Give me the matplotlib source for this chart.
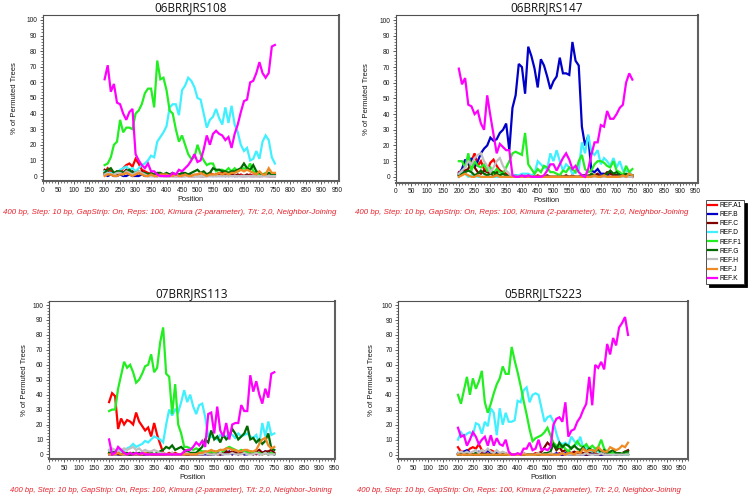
import matplotlib
matplotlib.use("Agg")
import matplotlib.pyplot as plt
from matplotlib.ticker import MultipleLocator

# ---------------- data ----------------
pos_a = list(range(200, 760, 10))   # panels 1-3 window midpoints
pos_b = list(range(200, 780, 10))   # panel 4

series_names = ["REF.A1", "REF.B", "REF.C", "REF.D", "REF.F1", "REF.G", "REF.H", "REF.J", "REF.K"]
series_colors = ["#FF0000", "#0000C8", "#800000", "#40F0FF", "#22EE22", "#006A00", "#C0C0C0", "#F08A24", "#FF00FF"]

titles = ["06BRRJRS108", "06BRRJRS147", "07BRRJRS113", "05BRRJLTS223"]
note = "400 bp, Step: 10 bp, GapStrip: On, Reps: 100, Kimura (2-parameter), T/t: 2,0, Neighbor-Joining"

# Panel 1 : 06BRRJRS108
p1_A1 = [2, 5, 3, 1, 3, 2, 5, 7, 8, 6,
         11, 8, 4, 3, 2, 1, 1, 0, 1, 1,
         0, 1, 0, 0, 1, 0, 0, 1, 0, 0,
         1, 0, 0, 1, 2, 1, 0, 1, 2, 1,
         0, 1, 0, 0, 1, 0, 0, 1, 0, 0,
         0, 1, 0, 0, 0, 0]
p1_B = [1, 0, 1, 0, 0, 1, 0, 0, 1, 0,
        0, 0, 1, 0, 0, 0, 0, 0, 0, 0,
        0, 0, 0, 0, 0, 0, 0, 0, 0, 0,
        0, 0, 0, 0, 0, 0, 0, 0, 0, 0,
        0, 0, 0, 0, 0, 0, 0, 0, 0, 0,
        0, 0, 0, 0, 0, 0]
p1_C = [4, 3, 1, 2, 1, 3, 2, 4, 2, 3,
        1, 2, 3, 1, 0, 1, 0, 0, 1, 0,
        0, 0, 1, 0, 0, 0, 1, 0, 0, 0,
        0, 0, 0, 0, 1, 0, 1, 2, 1, 0,
        2, 1, 0, 1, 0, 0, 1, 0, 0, 1,
        0, 0, 1, 0, 0, 0]
p1_D = [3, 2, 2, 1, 2, 4, 5, 6, 4, 5,
        3, 5, 7, 8, 10, 13, 12, 22, 25, 28,
        32, 44, 46, 46, 39, 55, 58, 63, 61, 57,
        50, 49, 40, 31, 36, 38, 43, 37, 33, 44,
        34, 45, 33, 28, 20, 16, 18, 10, 11, 16,
        11, 22, 26, 23, 12, 8]
p1_F1 = [7, 8, 12, 20, 22, 36, 28, 31, 31, 30,
         40, 42, 46, 53, 56, 56, 44, 74, 62, 63,
         55, 42, 40, 30, 22, 26, 20, 14, 11, 12,
         20, 14, 10, 7, 8, 8, 3, 4, 4, 3,
         5, 3, 5, 3, 4, 5, 4, 8, 3, 2,
         1, 1, 2, 2, 2, 1]
p1_G = [2, 4, 5, 2, 3, 3, 2, 3, 4, 2,
        2, 3, 1, 2, 1, 2, 1, 2, 2, 1,
        2, 1, 2, 1, 1, 2, 2, 1, 2, 3,
        4, 2, 3, 1, 2, 5, 4, 4, 3, 3,
        2, 3, 3, 4, 5, 8, 5, 4, 7, 3,
        2, 1, 1, 2, 1, 1]
p1_H = [1, 2, 1, 1, 2, 2, 1, 3, 2, 1,
        2, 3, 2, 1, 0, 0, 0, 0, 0, 0,
        0, 0, 0, 0, 0, 0, 0, 0, 0, 0,
        0, 0, 0, 0, 0, 0, 0, 0, 0, 0,
        0, 0, 0, 0, 0, 0, 0, 0, 0, 0,
        0, 0, 0, 0, 0, 0]
p1_J = [0, 1, 1, 0, 0, 1, 1, 2, 1, 0,
        1, 2, 1, 0, 0, 1, 0, 0, 1, 1,
        1, 0, 0, 1, 0, 0, 1, 0, 0, 1,
        1, 2, 1, 0, 1, 1, 1, 2, 1, 2,
        1, 2, 2, 3, 4, 3, 4, 3, 2, 1,
        3, 1, 1, 5, 2, 2]
p1_K = [62, 71, 54, 59, 47, 46, 40, 36, 41, 43,
        14, 10, 7, 5, 8, 3, 3, 1, 0, 0,
        0, 0, 2, 1, 4, 3, 5, 7, 10, 14,
        9, 10, 17, 26, 20, 27, 29, 27, 26, 23,
        25, 18, 27, 33, 41, 48, 49, 60, 61, 66,
        73, 66, 63, 66, 83, 84]

# Panel 2 : 06BRRJRS147
p2_A1 = [3, 2, 8, 12, 10, 15, 7, 10, 5, 4,
         9, 11, 7, 4, 3, 2, 0, 0, 1, 0,
         0, 1, 0, 0, 0, 1, 0, 0, 0, 0,
         0, 0, 1, 0, 0, 0, 1, 0, 0, 0,
         0, 1, 0, 0, 1, 0, 0, 1, 0, 0,
         0, 0, 1, 0, 0, 0]
p2_B = [2, 5, 11, 8, 12, 6, 10, 15, 18, 20,
        25, 23, 24, 28, 30, 34, 17, 44, 52, 72,
        70, 53, 83, 77, 69, 57, 75, 71, 64, 56,
        61, 64, 76, 66, 66, 65, 86, 74, 71, 32,
        20, 26, 4, 3, 5, 2, 2, 1, 3, 1,
        1, 2, 1, 1, 1, 1]
p2_C = [1, 3, 4, 5, 10, 6, 3, 2, 4, 3,
        2, 1, 3, 4, 2, 1, 0, 0, 1, 0,
        0, 0, 0, 1, 0, 0, 0, 0, 1, 0,
        0, 0, 0, 0, 1, 0, 0, 0, 0, 0,
        1, 0, 0, 1, 2, 0, 1, 3, 2, 1,
        1, 0, 1, 0, 1, 0]
p2_D = [0, 3, 2, 0, 1, 1, 0, 0, 0, 1,
        0, 0, 0, 0, 0, 0, 0, 1, 1, 1,
        2, 2, 2, 1, 2, 10, 8, 6, 5, 15,
        10, 17, 10, 4, 8, 6, 2, 3, 4, 22,
        15, 27, 16, 14, 17, 8, 12, 10, 7, 12,
        6, 10, 4, 4, 3, 1]
p2_F1 = [10, 10, 6, 15, 4, 10, 7, 6, 8, 4,
         6, 2, 5, 3, 2, 6, 10, 15, 16, 15,
         14, 28, 8, 5, 2, 5, 3, 7, 6, 3,
         3, 2, 1, 4, 3, 6, 5, 3, 10, 14,
         5, 3, 4, 8, 10, 10, 9, 7, 6, 10,
         4, 3, 1, 7, 3, 5]
p2_G = [1, 2, 3, 4, 3, 1, 2, 4, 2, 1,
        2, 3, 2, 1, 2, 1, 0, 0, 0, 0,
        0, 0, 0, 0, 0, 0, 0, 0, 0, 0,
        0, 0, 0, 0, 0, 0, 0, 0, 0, 1,
        1, 0, 2, 1, 0, 0, 1, 2, 4, 2,
        3, 1, 1, 2, 1, 1]
p2_H = [2, 4, 6, 10, 8, 12, 14, 15, 10, 7,
        3, 6, 10, 12, 7, 4, 2, 0, 0, 0,
        0, 0, 1, 0, 0, 0, 0, 0, 0, 0,
        0, 0, 0, 0, 0, 0, 0, 0, 0, 0,
        0, 0, 0, 0, 0, 0, 0, 0, 0, 0,
        0, 0, 0, 0, 0, 0]
p2_J = [0, 1, 2, 1, 0, 0, 1, 0, 0, 0,
        0, 0, 1, 0, 0, 0, 0, 0, 0, 0,
        0, 0, 0, 0, 0, 0, 0, 0, 0, 0,
        0, 0, 0, 0, 0, 0, 0, 0, 0, 0,
        0, 0, 0, 1, 0, 0, 1, 0, 0, 0,
        0, 0, 1, 0, 2, 1]
p2_K = [69, 59, 63, 46, 45, 40, 42, 34, 30, 52,
        39, 27, 15, 21, 19, 17, 17, 1, 0, 0,
        1, 0, 1, 0, 0, 0, 0, 1, 4, 8,
        8, 4, 8, 12, 15, 11, 5, 7, 3, 1,
        0, 5, 14, 22, 22, 33, 32, 42, 37, 37,
        40, 44, 46, 60, 66, 62]

# Panel 3 : 07BRRJRS113
p3_A1 = [35, 41, 39, 17, 24, 20, 23, 22, 20, 28,
         22, 19, 16, 18, 12, 21, 13, 7, 1, 0,
         1, 0, 1, 0, 0, 1, 0, 0, 0, 0,
         1, 0, 1, 0, 1, 2, 1, 0, 1, 2,
         1, 0, 1, 2, 1, 0, 1, 2, 1, 0,
         1, 0, 1, 0, 1, 0]
p3_B = [0, 0, 0, 0, 0, 0, 0, 0, 0, 0,
        0, 0, 0, 0, 0, 0, 0, 0, 0, 0,
        0, 0, 0, 0, 0, 0, 0, 0, 0, 0,
        0, 0, 0, 0, 0, 0, 1, 0, 0, 1,
        2, 0, 1, 0, 1, 0, 0, 1, 0, 1,
        0, 1, 2, 0, 1, 0]
p3_C = [1, 0, 1, 0, 0, 1, 0, 0, 0, 1,
        0, 0, 0, 1, 0, 0, 0, 0, 0, 0,
        0, 1, 0, 0, 0, 0, 0, 0, 0, 0,
        0, 0, 1, 0, 0, 1, 0, 0, 1, 2,
        1, 2, 1, 0, 1, 2, 1, 1, 0, 2,
        3, 1, 2, 2, 3, 1]
p3_D = [3, 2, 1, 3, 2, 3, 4, 5, 7, 5,
        6, 7, 9, 8, 10, 12, 11, 10, 8, 20,
        30, 26, 30, 28, 35, 43, 35, 40, 32, 27,
        33, 34, 25, 12, 12, 11, 10, 13, 12, 12,
        14, 13, 11, 14, 12, 13, 14, 12, 11, 13,
        7, 21, 12, 22, 13, 14]
p3_F1 = [29, 30, 30, 44, 53, 62, 58, 60, 55, 48,
         50, 54, 59, 60, 67, 55, 58, 75, 85, 54,
         52, 27, 47, 20, 14, 5, 5, 4, 3, 4,
         3, 2, 2, 1, 2, 1, 2, 3, 2, 4,
         5, 4, 3, 2, 3, 2, 1, 2, 1, 1,
         1, 0, 1, 0, 1, 0]
p3_G = [1, 1, 2, 1, 0, 1, 1, 0, 1, 0,
        1, 0, 1, 0, 1, 0, 1, 2, 3, 5,
        4, 6, 3, 4, 5, 3, 2, 1, 1, 1,
        3, 5, 10, 8, 16, 10, 12, 8, 13, 10,
        12, 17, 14, 10, 12, 14, 19, 10, 11, 8,
        10, 7, 9, 14, 4, 3]
p3_H = [3, 4, 3, 2, 3, 4, 3, 4, 5, 3,
        4, 2, 3, 2, 2, 3, 2, 1, 1, 0,
        0, 1, 0, 0, 0, 0, 1, 0, 0, 0,
        0, 0, 1, 0, 0, 0, 0, 1, 0, 0,
        0, 1, 0, 0, 0, 1, 0, 0, 0, 1,
        0, 0, 1, 0, 0, 0]
p3_J = [0, 0, 0, 1, 0, 0, 0, 1, 0, 0,
        0, 0, 1, 0, 0, 0, 0, 0, 0, 0,
        0, 0, 0, 0, 0, 0, 0, 0, 0, 0,
        1, 1, 2, 2, 3, 2, 2, 3, 3, 4,
        4, 3, 3, 2, 2, 3, 3, 2, 2, 3,
        7, 10, 11, 6, 4, 5]
p3_K = [10, 0, 1, 5, 3, 1, 0, 1, 0, 1,
        0, 1, 0, 0, 0, 0, 0, 0, 0, 0,
        0, 0, 0, 0, 0, 2, 3, 3, 5, 8,
        6, 9, 5, 27, 28, 14, 32, 16, 12, 21,
        10, 20, 21, 21, 33, 29, 29, 53, 42, 49,
        40, 34, 44, 38, 54, 55]

# Panel 4 : 05BRRJLTS223
p4_A1 = [5, 2, 2, 2, 4, 5, 4, 7, 3, 2,
         2, 3, 2, 0, 1, 0, 1, 0, 0, 0,
         0, 0, 1, 0, 0, 0, 1, 0, 0, 0,
         0, 1, 0, 0, 1, 0, 0, 1, 0, 0,
         0, 0, 1, 0, 0, 1, 0, 0, 0, 1,
         0, 0, 1, 0, 0, 0, 1, 0]
p4_B = [1, 0, 2, 3, 1, 0, 1, 2, 0, 1,
        3, 1, 0, 1, 0, 0, 0, 0, 0, 0,
        0, 0, 0, 0, 0, 0, 0, 0, 0, 0,
        0, 0, 0, 1, 0, 0, 1, 0, 0, 0,
        1, 0, 0, 0, 0, 1, 0, 0, 0, 0,
        0, 0, 0, 0, 0, 0, 0, 0]
p4_C = [0, 1, 0, 0, 1, 0, 0, 0, 1, 0,
        0, 0, 0, 0, 0, 0, 0, 0, 0, 0,
        0, 0, 0, 0, 0, 0, 0, 1, 2, 5,
        8, 6, 7, 3, 5, 2, 3, 2, 1, 2,
        1, 2, 1, 0, 1, 2, 1, 0, 1, 0,
        1, 0, 1, 0, 1, 1, 2, 3]
p4_D = [10, 15, 12, 14, 15, 13, 21, 20, 14, 22,
        19, 31, 28, 13, 31, 20, 28, 22, 22, 23,
        36, 35, 43, 45, 35, 40, 41, 40, 31, 22,
        25, 26, 22, 14, 8, 7, 8, 6, 12, 9,
        7, 12, 4, 5, 3, 2, 3, 2, 1, 2,
        1, 1, 0, 1, 0, 0, 0, 0]
p4_F1 = [40, 34, 43, 52, 40, 51, 44, 49, 56, 35,
         28, 34, 41, 47, 51, 59, 54, 54, 72, 63,
         55, 46, 36, 27, 17, 9, 11, 12, 13, 15,
         18, 13, 8, 6, 5, 6, 4, 2, 5, 6,
         9, 6, 5, 7, 4, 6, 4, 5, 10, 4,
         2, 1, 1, 1, 0, 1, 1, 0]
p4_G = [0, 0, 1, 0, 0, 0, 1, 0, 0, 0,
        0, 0, 0, 0, 0, 0, 0, 0, 0, 0,
        0, 0, 0, 0, 0, 0, 0, 0, 0, 1,
        1, 2, 7, 4, 8, 5, 7, 6, 4, 6,
        4, 3, 5, 2, 4, 3, 2, 4, 1, 3,
        1, 2, 3, 1, 1, 0, 2, 2]
p4_H = [1, 2, 1, 2, 1, 2, 3, 1, 3, 2,
        4, 2, 1, 3, 1, 2, 1, 0, 0, 0,
        0, 0, 1, 0, 0, 0, 0, 1, 0, 0,
        0, 1, 0, 0, 0, 1, 0, 0, 0, 0,
        0, 0, 0, 1, 0, 0, 0, 0, 1, 0,
        0, 0, 0, 0, 0, 0, 0, 0]
p4_J = [0, 0, 0, 0, 0, 0, 0, 0, 0, 0,
        0, 0, 0, 0, 0, 0, 0, 0, 0, 0,
        0, 0, 0, 0, 0, 0, 0, 0, 0, 0,
        0, 0, 0, 0, 0, 1, 0, 1, 1, 0,
        2, 1, 4, 2, 3, 3, 2, 5, 3, 2,
        2, 5, 4, 3, 4, 6, 5, 8]
p4_K = [18, 12, 13, 6, 10, 15, 12, 7, 10, 12,
        6, 13, 6, 11, 7, 6, 10, 2, 0, 0,
        1, 0, 4, 4, 8, 3, 4, 10, 3, 4,
        3, 5, 20, 24, 25, 22, 35, 12, 16, 17,
        22, 25, 30, 34, 52, 33, 60, 58, 62, 57,
        74, 67, 78, 73, 85, 88, 92, 80]

panels = [
    (pos_a, [p1_A1, p1_B, p1_C, p1_D, p1_F1, p1_G, p1_H, p1_J, p1_K]),
    (pos_a, [p2_A1, p2_B, p2_C, p2_D, p2_F1, p2_G, p2_H, p2_J, p2_K]),
    (pos_a, [p3_A1, p3_B, p3_C, p3_D, p3_F1, p3_G, p3_H, p3_J, p3_K]),
    (pos_b, [p4_A1, p4_B, p4_C, p4_D, p4_F1, p4_G, p4_H, p4_J, p4_K]),
]

# ---------------- layout (pixel boxes) ----------------
W, H = 751, 499
# left, right, top, bottom (px), xmax, ymin, ymax
boxes = [
    (42.7, 339.0, 15.0, 181.0, 957, -3.2, 103.2),
    (395.7, 697.7, 15.0, 182.5, 957, -3.6, 103.2),
    (49.0, 335.0, 300.7, 459.0, 952, -3.1, 102.9),
    (398.3, 687.7, 300.7, 459.3, 970, -3.1, 102.9),
]
ylabel_x = [-0.083, -0.085, -0.073, -0.08]
note_pos = [(3, 213, 5.7), (355, 213, 5.7), (10, 491, 5.5), (357, 491, 5.55)]

fig = plt.figure(figsize=(W / 100, H / 100), dpi=100)
tick_font = "Liberation Sans"
handles = None

for i, (box, (xs, ys_list)) in enumerate(zip(boxes, panels)):
    l, r, t, b, xmax, ymin, ymax = box
    ax = fig.add_axes([l / W, (H - b) / H, (r - l) / W, (b - t) / H])
    lines = []
    for name, col, ys in zip(series_names, series_colors, ys_list):
        ln, = ax.plot(xs, ys, color=col, lw=1.6, label=name, solid_joinstyle="miter")
        lines.append(ln)
    if i == 1:
        handles = lines
    ax.set_xlim(0, xmax)
    ax.set_ylim(ymin, ymax)
    ax.xaxis.set_minor_locator(MultipleLocator(10))
    ax.yaxis.set_minor_locator(MultipleLocator(2))
    ax.set_xticks(range(0, 951, 50))
    ax.set_yticks(range(0, 101, 10))
    ax.tick_params(which="major", length=2.5, width=0.6, color="#404040",
                   labelsize=4.8, pad=1.5, labelcolor="#1a1a1a")
    ax.tick_params(which="minor", length=1.5, width=0.5, color="#404040")
    for lab in ax.get_xticklabels() + ax.get_yticklabels():
        lab.set_family(tick_font)
    for s in ["left", "top"]:
        ax.spines[s].set_color("#505050")
        ax.spines[s].set_linewidth(0.8)
    for s in ["right", "bottom"]:
        ax.spines[s].set_color("#606060")
        ax.spines[s].set_linewidth(1.5)
    ax.set_ylabel("% of Permuted Trees", fontsize=5.5, family=tick_font, color="#1a1a1a")
    ax.yaxis.set_label_coords(ylabel_x[i], 0.5)
    ax.set_xlabel("Position", fontsize=5.3, family=tick_font, color="#1a1a1a", labelpad=1.5)
    ax.set_title(titles[i], fontsize=8.5, family="Open Sans", pad=2.5, color="#111111")
    nx, ny, nsize = note_pos[i]
    fig.text(nx / W, 1 - ny / H, note, fontsize=nsize, family=tick_font, style="italic",
             color="#E8202A", ha="left", va="center")

leg = fig.legend(handles, series_names, loc="upper left",
                 bbox_to_anchor=(706 / W, 1 - 200 / H), frameon=True, fancybox=False,
                 shadow={"color": "black", "alpha": 1.0},
                 prop={"family": tick_font, "size": 4.8}, handlelength=1.4,
                 handletextpad=0.4, labelspacing=0.32, borderpad=0.3, borderaxespad=0)
leg.get_frame().set_edgecolor("#333333")
leg.get_frame().set_linewidth(0.6)
for lh in leg.get_lines():
    lh.set_linewidth(1.6)

fig.savefig("out.png", dpi=100)
